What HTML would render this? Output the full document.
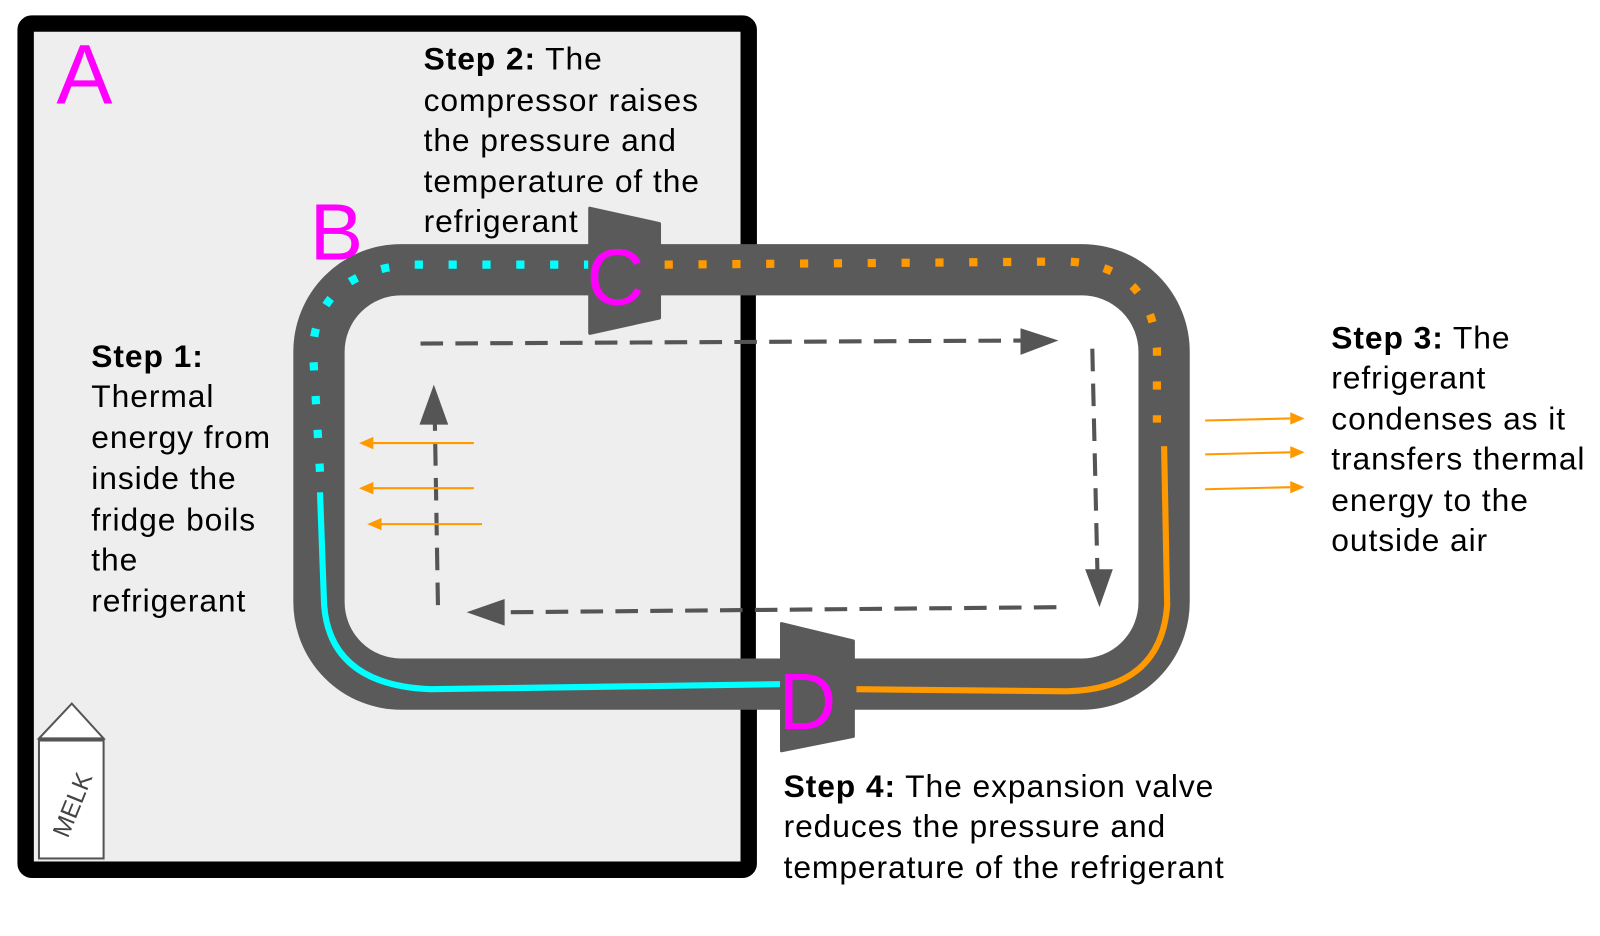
<!DOCTYPE html>
<html><head><meta charset="utf-8"><style>
html,body{margin:0;padding:0;background:#fff;}
svg{display:block;}
text{font-family:"Liberation Sans",Arial,sans-serif;}
</style></head><body>
<svg width="1600" height="936" viewBox="0 0 1560 912.6" xmlns="http://www.w3.org/2000/svg">
<!-- fridge -->
<rect x="25" y="23" width="705" height="825" rx="6" fill="#eeeeee" stroke="#000" stroke-width="16"/>
<rect x="737" y="288" width="373" height="354" fill="#fff"/>
<!-- pipe -->
<rect x="311" y="263" width="824" height="404" rx="80" fill="none" stroke="#5a5a5a" stroke-width="50"/>
<path d="M312,460 L305,340 Q310,265 400,258 L575,258" fill="none" stroke="#0ff" stroke-width="8" stroke-dasharray="8 25"/>
<path d="M312,480 L316,590 Q322,668 420,672 L765,667" fill="none" stroke="#0ff" stroke-width="6"/>
<path d="M648,258 L1040,255 Q1122,258 1128,340 L1128,412" fill="none" stroke="#f90" stroke-width="8" stroke-dasharray="8 25"/>
<path d="M1135,435 L1138,590 Q1132,672 1040,674 L835,672" fill="none" stroke="#f90" stroke-width="6"/>
<path d="M575,203 L643,218 L643,310 L575,325 z" fill="#5a5a5a" stroke="#5a5a5a" stroke-width="3" stroke-linejoin="round"/>
<path d="M762,608 L832,625 L832,718 L762,732 z" fill="#5a5a5a" stroke="#5a5a5a" stroke-width="3" stroke-linejoin="round"/>
<g stroke="#555" stroke-width="4" fill="none" stroke-dasharray="22 12">
<path d="M410,335 L1000,332" />
<path d="M1065,340 L1070,558" />
<path d="M1030,592 L490,597" />
<path d="M427,590 L424,412" />
</g>
<path d="M995,320 L1032,332 L995,346 z" fill="#555"/>
<path d="M1058,555 L1072,592 L1085,555 z" fill="#555"/>
<path d="M492,584 L455,597 L492,610 z" fill="#555"/>
<path d="M409,414 L423,375 L437,414 z" fill="#555"/>
<g stroke="#f90" stroke-width="2" fill="none">
<path d="M462,432 L362,432"/><path d="M462,476 L362,476"/><path d="M470,511 L370,511"/>
<path d="M1175,410 L1258,408"/><path d="M1175,443 L1258,441"/><path d="M1175,477 L1258,475"/>
</g>
<g fill="#f90">
<path d="M350,432 L364,426 L364,438 z"/><path d="M350,476 L364,470 L364,482 z"/><path d="M358,511 L372,505 L372,517 z"/>
<path d="M1272,408 L1258,402 L1258,414 z"/><path d="M1272,441 L1258,435 L1258,447 z"/><path d="M1272,475 L1258,469 L1258,481 z"/>
</g>
<g fill="#f0f">
<text x="55" y="101" font-size="82">A</text>
<text x="302" y="253" font-size="78">B</text>
<text x="572" y="297" font-size="78">C</text>
<text x="759" y="711" font-size="78">D</text>
</g>
<path d="M38,720 L70,686 L101,720 z" fill="#fff" stroke="#555" stroke-width="2"/>
<rect x="38" y="722" width="63" height="115" fill="#fff" stroke="#555" stroke-width="2"/>
<text transform="translate(66,818) rotate(-68)" font-size="24" fill="#444">MELK</text>
<g font-size="31" fill="#000" letter-spacing="0.9">
<text x="413" y="68"><tspan font-weight="bold">Step 2:</tspan> The</text>
<text x="413" y="108">compressor raises</text>
<text x="413" y="147">the pressure and</text>
<text x="413" y="187">temperature of the</text>
<text x="413" y="226">refrigerant</text>

<text x="89" y="358" font-weight="bold">Step 1:</text>
<text x="89" y="397">Thermal</text>
<text x="89" y="437">energy from</text>
<text x="89" y="477">inside the</text>
<text x="89" y="517">fridge boils</text>
<text x="89" y="556">the</text>
<text x="89" y="596">refrigerant</text>

<text x="1298" y="340"><tspan font-weight="bold">Step 3:</tspan> The</text>
<text x="1298" y="379">refrigerant</text>
<text x="1298" y="419">condenses as it</text>
<text x="1298" y="458">transfers thermal</text>
<text x="1298" y="498">energy to the</text>
<text x="1298" y="537">outside air</text>

<text x="764" y="777"><tspan font-weight="bold">Step 4:</tspan> The expansion valve</text>
<text x="764" y="816">reduces the pressure and</text>
<text x="764" y="856">temperature of the refrigerant</text>
</g>
</svg>
</body></html>
